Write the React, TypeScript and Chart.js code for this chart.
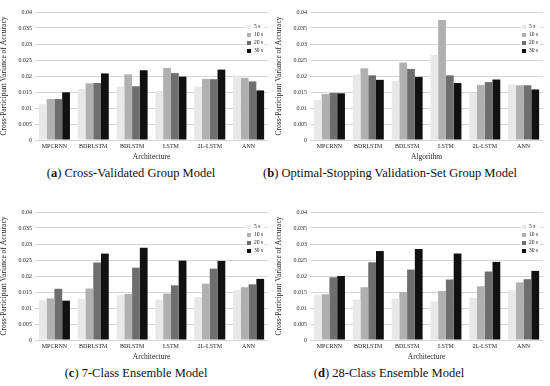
import React, { useEffect, useRef } from "react";
import { Chart, registerables } from "chart.js";

Chart.register(...registerables);

const categories = ["MPCRNN", "BDRLSTM", "BDLSTM", "LSTM", "2L-LSTM", "ANN"];
const seriesLabels = ["5 s", "10 s", "20 s", "30 s"];
const seriesColors = ["#e8e8e8", "#b0b0b0", "#6e6e6e", "#111111"];
const yTicks = [0, 0.005, 0.01, 0.015, 0.02, 0.025, 0.03, 0.035, 0.04];

// Panel (a)
const a5 = [0.0112, 0.0159, 0.0167, 0.0154, 0.0166, 0.0202];
const a10 = [0.0128, 0.0177, 0.0205, 0.0225, 0.0191, 0.0194];
const a20 = [0.0128, 0.0178, 0.0168, 0.0209, 0.019, 0.0183];
const a30 = [0.0149, 0.0208, 0.0218, 0.0198, 0.022, 0.0155];

// Panel (b)
const b5 = [0.0125, 0.0205, 0.0185, 0.0266, 0.0147, 0.0174];
const b10 = [0.0144, 0.0224, 0.0242, 0.0375, 0.0172, 0.0171];
const b20 = [0.0147, 0.0202, 0.0222, 0.0202, 0.0181, 0.0171];
const b30 = [0.0146, 0.0188, 0.0197, 0.0178, 0.0189, 0.0158];

// Panel (c)
const c5 = [0.0124, 0.0129, 0.014, 0.0126, 0.0134, 0.0156];
const c10 = [0.013, 0.0161, 0.0144, 0.0145, 0.0176, 0.0165];
const c20 = [0.016, 0.0242, 0.0226, 0.0171, 0.0223, 0.0174];
const c30 = [0.0123, 0.027, 0.0288, 0.0248, 0.0247, 0.0191];

// Panel (d)
const d5 = [0.0141, 0.0126, 0.0129, 0.012, 0.0131, 0.0156];
const d10 = [0.0143, 0.0165, 0.015, 0.0153, 0.0168, 0.018];
const d20 = [0.0196, 0.0243, 0.022, 0.0189, 0.0214, 0.019];
const d30 = [0.02, 0.0278, 0.0284, 0.027, 0.0244, 0.0216];

const FONT = "'Liberation Serif', 'DejaVu Serif', serif";

const legendPlugin = {
  id: "insideLegend",
  afterDraw(chart: any) {
    const { ctx, chartArea } = chart;
    const x0 = chartArea.right - 22;
    const y0 = chartArea.top + 9;
    ctx.save();
    ctx.fillStyle = "#ffffff";
    ctx.fillRect(x0, y0, 19, 35);
    ctx.font = `5.5px ${FONT}`;
    ctx.textBaseline = "middle";
    seriesLabels.forEach((lab, i) => {
      const y = y0 + 6 + i * 8;
      ctx.fillStyle = seriesColors[i];
      ctx.fillRect(x0 + 1, y - 2, 4, 4);
      ctx.fillStyle = "#222";
      ctx.fillText(lab, x0 + 8, y);
    });
    ctx.restore();
  },
};

function Panel({ series, xTitle, top, left }: { series: number[][]; xTitle: string; top: number; left: number }) {
  const ref = useRef<HTMLCanvasElement>(null);
  useEffect(() => {
    const chart = new Chart(ref.current as HTMLCanvasElement, {
      type: "bar",
      data: {
        labels: categories,
        datasets: series.map((d, i) => ({
          label: seriesLabels[i],
          data: d,
          backgroundColor: seriesColors[i],
          borderWidth: 0,
          categoryPercentage: 0.8,
          barPercentage: 1.0,
        })),
      },
      options: {
        animation: false,
        responsive: false,
        devicePixelRatio: 1,
        layout: { padding: { top: 12, right: 7, left: 0, bottom: 0 } },
        plugins: { legend: { display: false }, tooltip: { enabled: false } },
        scales: {
          x: {
            grid: { display: false, drawTicks: false },
            border: { display: false },
            ticks: { color: "#222", font: { family: FONT, size: 6 }, padding: 3, maxRotation: 0 },
            title: { display: true, text: xTitle, color: "#222", font: { family: FONT, size: 7.5 }, padding: { top: 1, bottom: 0 } },
            afterFit: (s: any) => { s.height = 22; },
          },
          y: {
            min: 0,
            max: 0.04,
            afterBuildTicks: (s: any) => { s.ticks = yTicks.map((v) => ({ value: v })); },
            grid: { color: "#d4d4d4", lineWidth: 1, drawTicks: false },
            border: { display: false },
            ticks: {
              color: "#222",
              font: { family: FONT, size: 6 },
              padding: 3,
              callback: (v: any) => (v === 0 ? "0" : String(Number(Number(v).toFixed(3)))),
            },
            title: { display: true, text: "Cross-Participant Variance of Accuracy", color: "#222", font: { family: FONT, size: 7.5 }, padding: { top: 0, bottom: 0 } },
            afterFit: (s: any) => { s.width = 35; },
          },
        },
      },
      plugins: [legendPlugin],
    } as any);
    return () => chart.destroy();
  }, []);
  return (
    <canvas
      ref={ref}
      width={275}
      height={162}
      style={{ position: "absolute", top, left, width: 275, height: 162 }}
    />
  );
}

function Caption({ letter, text, cx, cy }: { letter: string; text: string; cx: number; cy: number }) {
  return (
    <div
      style={{
        position: "absolute",
        left: cx - 150,
        width: 300,
        top: cy - 8,
        height: 16,
        lineHeight: "16px",
        textAlign: "center",
        fontFamily: FONT,
        fontSize: 12.5,
        color: "#111",
        whiteSpace: "nowrap",
      }}
    >
      (<b>{letter}</b>) {text}
    </div>
  );
}

export default function App() {
  return (
    <div style={{ position: "absolute", top: 0, left: 0, width: 550, height: 386, background: "#fff", overflow: "hidden" }}>
      <Panel series={[a5, a10, a20, a30]} xTitle="Architecture" top={0} left={0} />
      <Panel series={[b5, b10, b20, b30]} xTitle="Algorithm" top={0} left={275} />
      <Panel series={[c5, c10, c20, c30]} xTitle="Architecture" top={200} left={0} />
      <Panel series={[d5, d10, d20, d30]} xTitle="Architecture" top={200} left={275} />
      <Caption letter="a" text="Cross-Validated Group Model" cx={131} cy={173} />
      <Caption letter="b" text="Optimal-Stopping Validation-Set Group Model" cx={390} cy={173} />
      <Caption letter="c" text="7-Class Ensemble Model" cx={136} cy={373} />
      <Caption letter="d" text="28-Class Ensemble Model" cx={389} cy={373} />
    </div>
  );
}
